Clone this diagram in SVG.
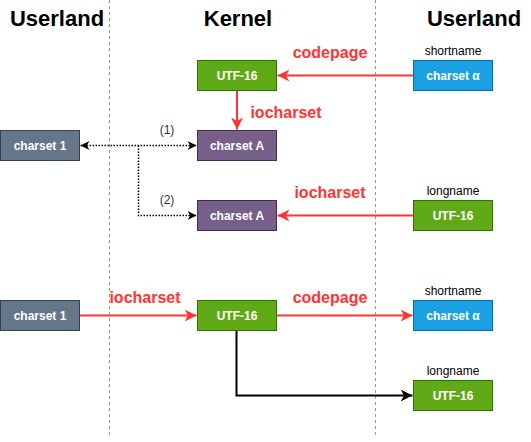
<svg xmlns="http://www.w3.org/2000/svg" width="531" height="442" viewBox="0 0 531 442">
<style>
.hdr{font-family:"Liberation Sans",Arial,sans-serif;font-size:22px;font-weight:bold;fill:#000;text-anchor:middle}
.box text{font-family:"Liberation Sans",Arial,sans-serif;font-size:12px;font-weight:bold;fill:#fff;text-anchor:middle}
.lbl{font-family:"Liberation Sans",Arial,sans-serif;font-size:16px;font-weight:bold;fill:#ff3333;text-anchor:middle}
.cap{font-family:"Liberation Sans",Arial,sans-serif;font-size:12px;fill:#000;text-anchor:middle}
.num{font-family:"Liberation Sans",Arial,sans-serif;font-size:12px;fill:#333;text-anchor:middle}
.green rect{fill:#60a917;stroke:#2d7600}
.blue rect{fill:#1ba1e2;stroke:#006eaf}
.slate rect{fill:#647687;stroke:#314354}
.purple rect{fill:#76608a;stroke:#432d57}
.sep{stroke:#999;stroke-width:1;stroke-dasharray:3 3;fill:none}
.red{stroke:#ff3333;stroke-width:2;fill:none}
.dot{stroke:#000;stroke-width:1.5;stroke-dasharray:1.5 1.5;fill:none}
.blk{stroke:#000;stroke-width:2;fill:none}
</style>
<defs>
<marker id="ak" viewBox="0 0 10 10" refX="10" refY="5" markerWidth="12" markerHeight="12" markerUnits="userSpaceOnUse" orient="auto">
<path d="M0,0 L10,5 L0,10 L3,5 Z" fill="#000"/>
</marker>
<marker id="ad" viewBox="0 0 10 10" refX="10" refY="5" markerWidth="9" markerHeight="9" markerUnits="userSpaceOnUse" orient="auto-start-reverse">
<path d="M0,0 L10,5 L0,10 L3,5 Z" fill="#000"/>
</marker>
<marker id="rr" viewBox="0 0 10 10" refX="10" refY="5" markerWidth="12" markerHeight="12" markerUnits="userSpaceOnUse" orient="auto">
<path d="M0,0 L10,5 L0,10 L3,5 Z" fill="#ff3333"/>
</marker>
</defs>
<g id="separators">
<line class="sep" x1="109.5" y1="0" x2="109.5" y2="438"/>
<line class="sep" x1="375.5" y1="0" x2="375.5" y2="438"/>
</g>
<g id="headers">
<text class="hdr" x="57" y="26">Userland</text>
<text class="hdr" x="238" y="26">Kernel</text>
<text class="hdr" x="474" y="26">Userland</text>
</g>
<g id="connectors">
<path class="red" d="M413.5,75.5 L277.5,75.5" marker-end="url(#rr)"/>
<path class="red" d="M237,90.5 L237,129.5" marker-end="url(#rr)"/>
<path class="dot" d="M80.5,145.5 L196.5,145.5" marker-start="url(#ad)" marker-end="url(#ad)"/>
<path class="dot" d="M138.5,145.5 L138.5,215.5 L196.5,215.5" marker-end="url(#ad)"/>
<path class="red" d="M413.5,215.5 L277.5,215.5" marker-end="url(#rr)"/>
<path class="red" d="M79.5,315.5 L196.5,315.5" marker-end="url(#rr)"/>
<path class="red" d="M276.5,315.5 L412.5,315.5" marker-end="url(#rr)"/>
<path class="blk" d="M236.5,330.5 L236.5,395.5 L412.5,395.5" marker-end="url(#ak)"/>
<text class="lbl" x="330" y="58">codepage</text>
<text class="lbl" x="286" y="118">iocharset</text>
<text class="num" x="167" y="134">(1)</text>
<text class="num" x="167" y="204">(2)</text>
<text class="lbl" x="330" y="198">iocharset</text>
<text class="lbl" x="145" y="303">iocharset</text>
<text class="lbl" x="330" y="303">codepage</text>
</g>
<g id="n_utf16_top" class="box green"><rect x="197.5" y="60.5" width="79" height="30"/><text x="237" y="80">UTF-16</text></g>
<g id="n_alpha_top" class="box blue"><rect x="413.5" y="60.5" width="79" height="30"/><text x="453" y="80">charset α</text></g>
<text class="cap" x="453" y="55">shortname</text>
<g id="n_cs1_top" class="box slate"><rect x="0.5" y="130.5" width="79" height="30"/><text x="40" y="150">charset 1</text></g>
<g id="n_csA_1" class="box purple"><rect x="197.5" y="130.5" width="79" height="30"/><text x="237" y="150">charset A</text></g>
<g id="n_csA_2" class="box purple"><rect x="197.5" y="200.5" width="79" height="30"/><text x="237" y="220">charset A</text></g>
<g id="n_utf16_long1" class="box green"><rect x="413.5" y="200.5" width="79" height="30"/><text x="453" y="220">UTF-16</text></g>
<text class="cap" x="453" y="195">longname</text>
<g id="n_cs1_bot" class="box slate"><rect x="0.5" y="300.5" width="79" height="30"/><text x="40" y="320">charset 1</text></g>
<g id="n_utf16_mid" class="box green"><rect x="197.5" y="300.5" width="79" height="30"/><text x="237" y="320">UTF-16</text></g>
<g id="n_alpha_bot" class="box blue"><rect x="413.5" y="300.5" width="79" height="30"/><text x="453" y="320">charset α</text></g>
<text class="cap" x="453" y="295">shortname</text>
<g id="n_utf16_long2" class="box green"><rect x="413.5" y="380.5" width="79" height="30"/><text x="453" y="400">UTF-16</text></g>
<text class="cap" x="453" y="375">longname</text>
</svg>
